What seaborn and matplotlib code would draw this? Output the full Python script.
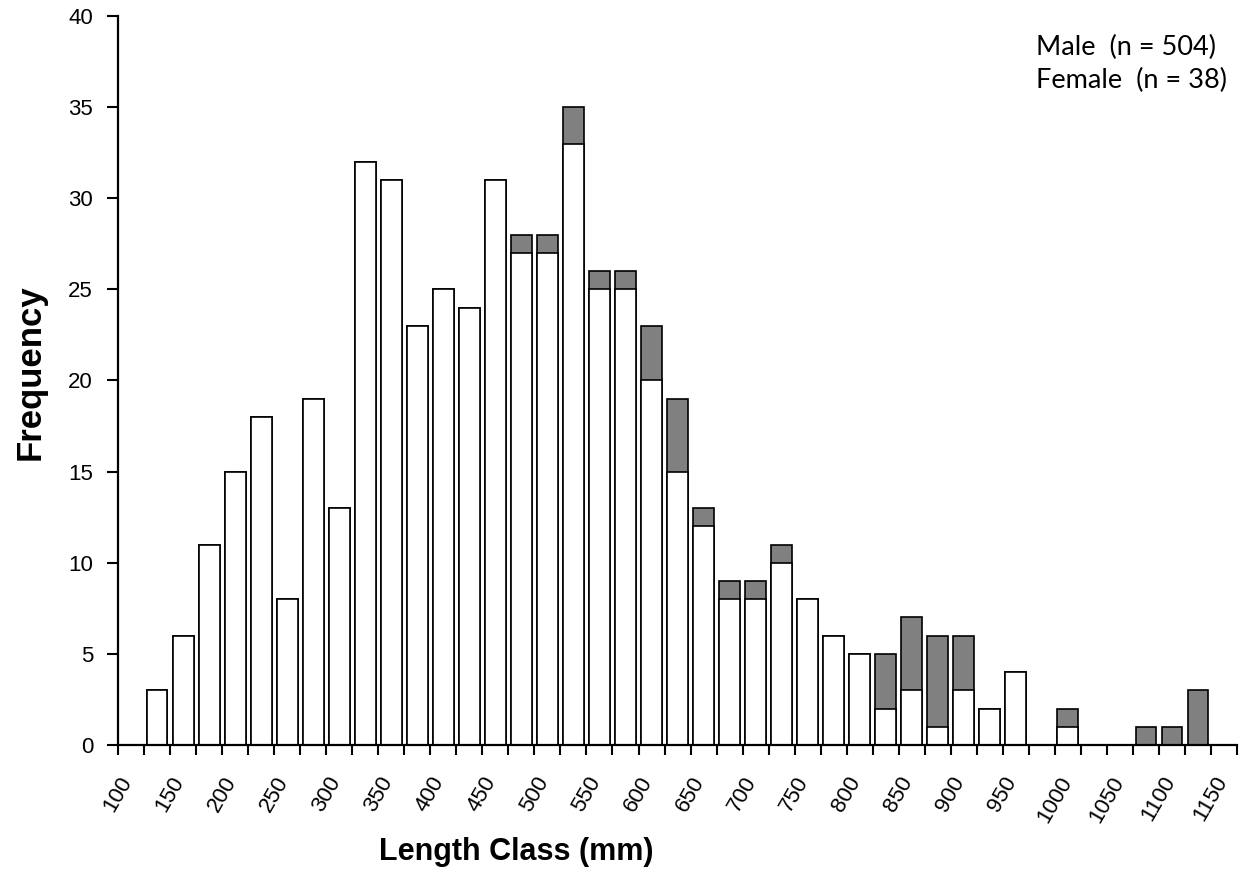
import matplotlib
matplotlib.use("Agg")
import matplotlib.pyplot as plt
from matplotlib import font_manager
import seaborn as sns
import pandas as pd

# lower bound of each 25 mm length class
length_class = [100, 125, 150, 175, 200, 225, 250, 275, 300, 325, 350, 375, 400, 425, 450,
                475, 500, 525, 550, 575, 600, 625, 650, 675, 700, 725, 750, 775, 800, 825,
                850, 875, 900, 925, 950, 975, 1000, 1025, 1050, 1075, 1100, 1125, 1150]
male = [0, 3, 6, 11, 15, 18, 8, 19, 13, 32, 31, 23, 25, 24, 31,
        27, 27, 33, 25, 25, 20, 15, 12, 8, 8, 10, 8, 6, 5, 2,
        3, 1, 3, 2, 4, 0, 1, 0, 0, 0, 0, 0, 0]
female = [0, 0, 0, 0, 0, 0, 0, 0, 0, 0, 0, 0, 0, 0, 0,
          1, 1, 2, 1, 1, 3, 4, 1, 1, 1, 1, 0, 0, 0, 3,
          4, 5, 3, 0, 0, 0, 1, 0, 0, 1, 1, 3, 0]
tick_labels = ["100", "150", "200", "250", "300", "350", "400", "450", "500", "550", "600",
               "650", "700", "750", "800", "850", "900", "950", "1000", "1050", "1100", "1150"]
legend_lines = ["Male  (n = 504)", "Female  (n = 38)"]


def has_font(name):
    try:
        font_manager.findfont(font_manager.FontProperties(family=name),
                              fallback_to_default=False)
        return True
    except ValueError:
        return False


df = pd.DataFrame({"length": length_class, "male": male, "female": female})
df["total"] = df["male"] + df["female"]
df["mid"] = df["length"] + 12.5
shown = df[df["total"] > 0]

sns.set_theme(style="ticks")
plt.rcParams["font.family"] = ["Liberation Sans", "DejaVu Sans"]
plt.rcParams["text.color"] = "black"
plt.rcParams["axes.labelcolor"] = "black"

fig = plt.figure(figsize=(12.4, 8.82), dpi=100)
ax = fig.add_axes([0.0952, 0.1553, 0.9024, 0.8266])

# female stacked on top: draw totals in grey, then males in white over them
sns.barplot(data=shown, x="mid", y="total", native_scale=True, width=0.8,
            color="#808080", saturation=1, edgecolor="black", linewidth=1.2,
            errorbar=None, ax=ax)
sns.barplot(data=shown, x="mid", y="male", native_scale=True, width=0.8,
            color="white", saturation=1, edgecolor="black", linewidth=1.2,
            errorbar=None, ax=ax)

ax.set_xlim(100, 1175)
ax.set_ylim(0, 40)
ax.set_xticks(range(100, 1151, 50), tick_labels)
ax.set_xticks(range(125, 1176, 50), minor=True)
ax.set_yticks(range(0, 41, 5))
for lab in ax.get_xticklabels():
    lab.set_rotation(60)
    lab.set_ha("center")

ax.tick_params(axis="x", which="both", direction="out", length=7, width=1.5,
               color="black", labelcolor="black", pad=13, labelsize=16)
ax.tick_params(axis="y", direction="out", length=8, width=1.5, color="black",
               labelcolor="black", pad=10, labelsize=16)
sns.despine(ax=ax)
for side in ("left", "bottom"):
    ax.spines[side].set_linewidth(1.6)
    ax.spines[side].set_color("black")

ax.set_ylabel("Frequency", fontsize=25, fontweight="bold")
ax.yaxis.set_label_coords(-0.064, 0.512)

if has_font("Liberation Sans Narrow"):
    ax.set_xlabel("Length Class (mm)", fontsize=24, fontweight="bold",
                  family="Liberation Sans Narrow")
else:
    ax.set_xlabel("Length Class (mm)", fontsize=22, fontweight="bold")
ax.xaxis.set_label_coords(0.356, -0.126)

fig.text(1036 / 1240, 1 - 55 / 882, legend_lines[0], family=["Lato", "DejaVu Sans"],
         fontsize=19.5, va="baseline")
fig.text(1036 / 1240, 1 - 88 / 882, legend_lines[1], family=["Lato", "DejaVu Sans"],
         fontsize=19.5, va="baseline")

fig.savefig("out.png", dpi=100, facecolor="white")
